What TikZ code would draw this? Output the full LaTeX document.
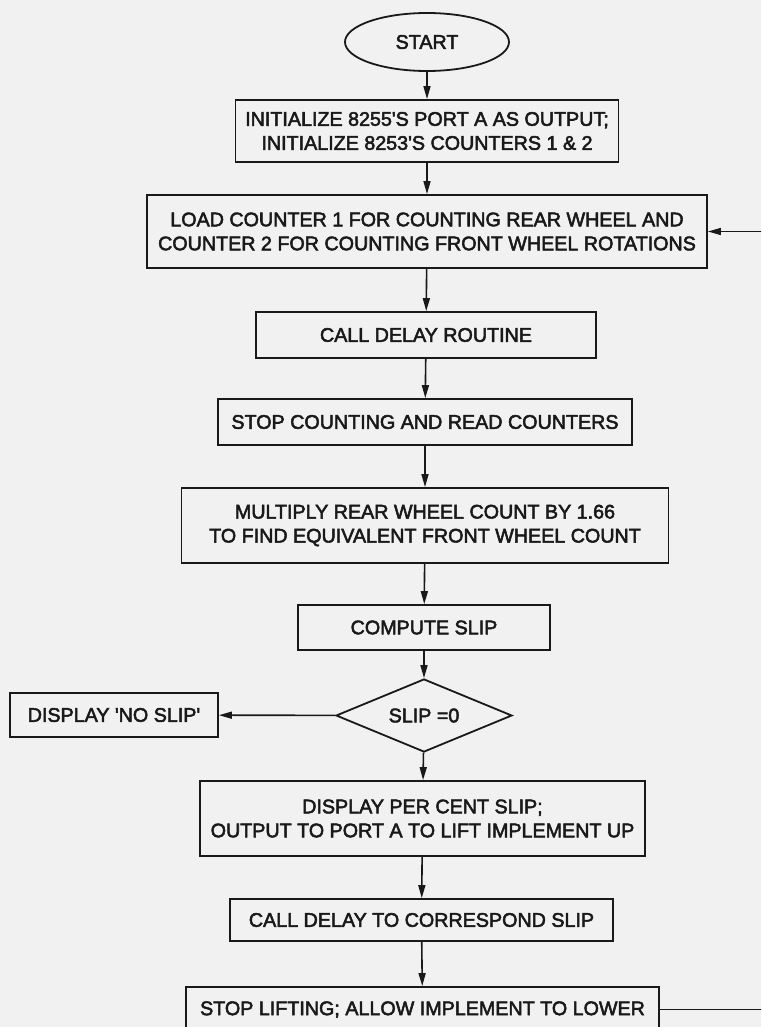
\documentclass[tikz,border=0pt]{standalone}
\usepackage{fontspec}
\setmainfont{Liberation Sans}
\newfontfamily\heavy[FakeBold=2.6]{Liberation Sans}
\usetikzlibrary{shapes.geometric,arrows.meta}
\definecolor{ink}{RGB}{25,25,25}
\definecolor{paper}{RGB}{241,241,241}
\begin{document}
\begin{tikzpicture}[x=1pt,y=-1pt,
  box/.style={draw=ink,line width=1.8pt,rectangle,inner sep=0pt,align=center,text=ink,
              font=\heavy\fontsize{19.7}{24}\selectfont},
  arr/.style={draw=ink,line width=1.6pt,-{Triangle[length=13pt,width=7pt]}},
  link/.style={draw=ink,line width=1.6pt}]
\clip (0,0) rectangle (761,1027);
\fill[paper] (0,0) rectangle (761,1027);

\node[box,ellipse,minimum width=164pt,minimum height=58pt] (start) at (427,42) {START};
\node[box,minimum width=383pt,minimum height=62pt] (init) at (427,131)
  {INITIALIZE 8255\textquotesingle S PORT A AS OUTPUT;\\INITIALIZE 8253\textquotesingle S COUNTERS 1 \& 2};
\node[box,minimum width=560pt,minimum height=73pt] (load) at (427,231.5)
  {LOAD COUNTER 1 FOR COUNTING REAR WHEEL AND\\COUNTER 2 FOR COUNTING FRONT WHEEL ROTATIONS};
\node[box,minimum width=340pt,minimum height=46pt] (delay) at (426,335) {CALL DELAY ROUTINE};
\node[box,minimum width=414pt,minimum height=46pt] (stop) at (425,422) {STOP COUNTING AND READ COUNTERS};
\node[box,minimum width=487pt,minimum height=75pt] (mult) at (425,525.5)
  {MULTIPLY REAR WHEEL COUNT BY 1.66\\TO FIND EQUIVALENT FRONT WHEEL COUNT};
\node[box,minimum width=252pt,minimum height=45pt] (comp) at (424,627.5) {COMPUTE SLIP};
\node[box,diamond,aspect=2.4,minimum width=176pt,minimum height=73pt] (test) at (424,715.5) {SLIP =0};
\node[box,minimum width=208pt,minimum height=44pt] (noslip) at (114,715) {DISPLAY \textquotesingle NO SLIP\textquotesingle};
\node[box,minimum width=445pt,minimum height=75pt] (pct) at (422.5,818.5)
  {DISPLAY PER CENT SLIP;\\OUTPUT TO PORT A TO LIFT IMPLEMENT UP};
\node[box,minimum width=383pt,minimum height=42pt] (corr) at (421.5,920) {CALL DELAY TO CORRESPOND SLIP};
\node[box,minimum width=473pt,minimum height=45pt] (lift) at (422.5,1009.5) {STOP LIFTING; ALLOW IMPLEMENT TO LOWER};

\coordinate (loopx) at (780,1009.5);

\draw[arr] (start) -- (init);
\draw[arr] (init) -- (load);
\draw[arr] (load) -- (delay);
\draw[arr] (delay) -- (stop);
\draw[arr] (stop) -- (mult);
\draw[arr] (mult) -- (comp);
\draw[arr] (comp) -- (test);
\draw[arr] (test) -- (noslip);
\draw[arr] (test) -- (pct);
\draw[arr] (pct) -- (corr);
\draw[arr] (corr) -- (lift);
\draw[arr] (lift.east) -- (loopx) |- (load.east);
\end{tikzpicture}
\end{document}
